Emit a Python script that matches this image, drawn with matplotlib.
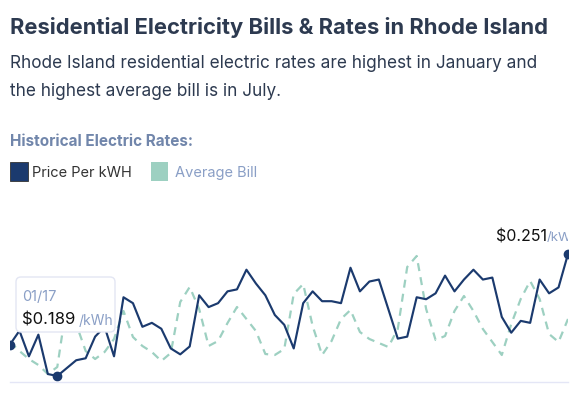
import matplotlib
matplotlib.use("Agg")
import matplotlib.pyplot as plt
from matplotlib.patches import FancyBboxPatch, Rectangle
from matplotlib.transforms import Bbox, TransformedBbox

# ---- data ----
price_per_kwh = [0.205, 0.212, 0.199, 0.210, 0.190, 0.189, 0.193, 0.197, 0.198, 0.209,
                 0.214, 0.199, 0.229, 0.226, 0.214, 0.216, 0.213, 0.203, 0.200, 0.204,
                 0.230, 0.224, 0.226, 0.232, 0.233, 0.243, 0.236, 0.230, 0.220, 0.215,
                 0.203, 0.226, 0.232, 0.227, 0.227, 0.226, 0.244, 0.232, 0.237, 0.238,
                 0.223, 0.208, 0.209, 0.229, 0.228, 0.231, 0.240, 0.232, 0.238, 0.243,
                 0.238, 0.239, 0.219, 0.211, 0.217, 0.216, 0.238, 0.231, 0.234, 0.251]
average_bill = [102.2, 96.8, 92.0, 88.4, 83.0, 87.2, 125.0, 113.0, 96.8, 92.0,
                96.2, 104.0, 120.8, 105.2, 99.8, 96.2, 90.8, 95.6, 126.2, 135.2,
                122.0, 99.8, 102.8, 113.6, 123.2, 116.0, 108.8, 95.0, 94.4, 98.0,
                131.0, 137.0, 111.8, 94.4, 102.8, 116.0, 121.4, 108.2, 104.0, 101.6,
                99.2, 110.0, 147.2, 153.8, 122.0, 103.4, 105.8, 120.8, 129.8, 120.8,
                110.0, 102.2, 94.4, 113.0, 128.0, 138.8, 128.0, 107.0, 102.2, 116.0]
months = list(range(len(price_per_kwh)))
hover_index = 5
hover_label = "01/17"
title = "Residential Electricity Bills & Rates in Rhode Island"
subtitle = ["Rhode Island residential electric rates are highest in January and",
            "the highest average bill is in July."]
section = "Historical Electric Rates:"
legend_labels = ["Price Per kWH", "Average Bill"]

NAVY = "#1b3a6e"
TEAL = "#9dd0c1"
SLATE = "#2d3a50"
MUTED = "#8a9fc6"

plt.rcParams['font.family'] = ['Inter', 'DejaVu Sans']

W, H = 580, 402
fig = plt.figure(figsize=(W / 100, H / 100), dpi=100)

def fx(px):
    return px / W

def fy(py):
    return 1 - py / H

# header texts
fig.text(fx(10), fy(27), title, fontsize=15.8, fontweight='bold', color=SLATE,
         ha='left', va='center')
fig.text(fx(10), fy(64), subtitle[0], fontsize=12.4, color=SLATE, ha='left', va='center')
fig.text(fx(10), fy(92), subtitle[1], fontsize=12.4, color=SLATE, ha='left', va='center')
fig.text(fx(10), fy(141), section, fontsize=11, fontweight='bold', color="#7186ab",
         ha='left', va='center')

# legend
fig.patches.append(Rectangle((fx(10), fy(182)), fx(18), 19 / H, transform=fig.transFigure,
                             facecolor=NAVY, edgecolor="#333333", lw=0.6))
fig.text(fx(32), fy(173), legend_labels[0], fontsize=10.5, color="#333333", ha='left', va='center')
fig.patches.append(Rectangle((fx(151), fy(182)), fx(17), 19 / H, transform=fig.transFigure,
                             facecolor=TEAL, edgecolor='none'))
fig.text(fx(175), fy(173), legend_labels[1], fontsize=10.5, color=MUTED, ha='left', va='center')

# chart axes
ax = fig.add_axes([fx(10), fy(383), fx(558), 153 / H])
ax2 = ax.twinx()
ax.set_zorder(ax2.get_zorder() + 1)
ax.patch.set_visible(False)

ax2.plot(months, average_bill, color=TEAL, lw=1.6, dashes=(3.6, 2.8))
ax.plot(months, price_per_kwh, color=NAVY, lw=1.55)
ax.plot([months[0], months[hover_index], months[-1]],
        [price_per_kwh[0], price_per_kwh[hover_index], price_per_kwh[-1]],
        'o', color=NAVY, ms=6)

ax.set_xlim(months[0], months[-1])
ax.set_ylim(0.18595, 0.26368)
ax2.set_ylim(78.2, 170)
for a in (ax, ax2):
    a.set_xticks([])
    a.set_yticks([])
    for s in ('top', 'left', 'right'):
        a.spines[s].set_visible(False)
ax.spines['bottom'].set_color("#e4e6f6")
ax.spines['bottom'].set_linewidth(1.0)
ax2.spines['bottom'].set_visible(False)

# overlay for tooltip and labels
ov = fig.add_axes([0, 0, 1, 1], zorder=20)
ov.set_xlim(0, W)
ov.set_ylim(H, 0)
ov.axis('off')
ov.patch.set_visible(False)

tip = FancyBboxPatch((16, 278), 99, 55, boxstyle="round,pad=0,rounding_size=5",
                     facecolor='white', edgecolor="#e3e6f3", lw=1.0)
ov.add_patch(tip)
ov.text(22, 297, hover_label, fontsize=10.5, color=MUTED, ha='left', va='center')
ov.text(22, 320, f"${price_per_kwh[hover_index]:.3f}", fontsize=12, color="#111111",
        ha='left', va='center')
ov.text(79, 321, "/kWh", fontsize=10, color=MUTED, ha='left', va='center')

# last value label (clipped at the chart's right edge)
ov.text(496, 237, f"${price_per_kwh[-1]:.3f}", fontsize=11.5, color="#111111",
        ha='left', va='center')
t2 = ov.text(547, 238, "/kWh", fontsize=9.5, color=MUTED, ha='left', va='center')
t2.set_clip_on(True)
t2.set_clip_box(TransformedBbox(Bbox([[0, 0], [568, H]]), ov.transData))

fig.savefig("out.png", dpi=100)
